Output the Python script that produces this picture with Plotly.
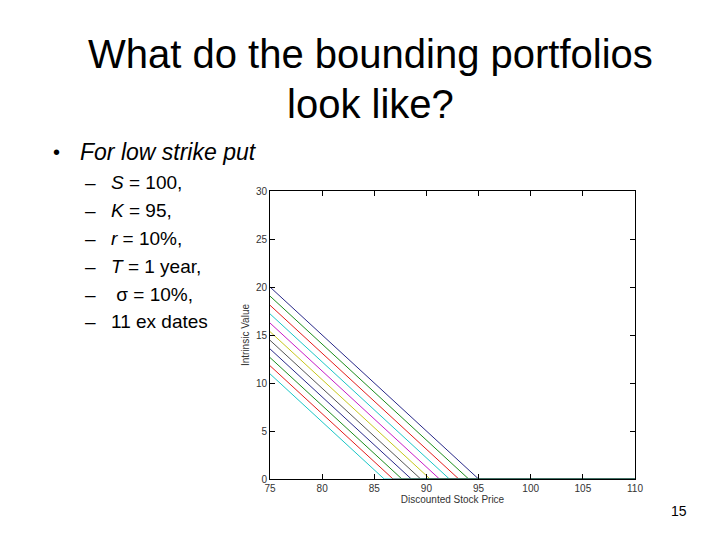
import plotly.graph_objects as go

# intrinsic value of the low strike put for each of the 11 ex dates
ex_dates = ["1", "2", "3", "4", "5", "6", "7", "8", "9", "10", "11"]
start_price = 75
end_price = 110
start_values = [20.0, 19.05, 18.1, 17.2, 16.25, 15.35, 14.45, 13.55, 12.65, 11.8, 10.95]
zero_points = [95.0, 94.05, 93.1, 92.2, 91.25, 90.35, 89.45, 88.55, 87.65, 86.8, 85.95]

x_ticks = [75, 80, 85, 90, 95, 100, 105, 110]
y_ticks = [0, 5, 10, 15, 20, 25, 30]

title_lines = ["What do the bounding portfolios", "look like?"]
bullet = "For low strike put"
sub_bullets = ["<i>S</i> = 100,", "<i>K</i> = 95,", "<i>r</i> = 10%,",
               "<i>T</i> = 1 year,", " σ = 10%,", "11 ex dates"]
page_number = "15"

# old matlab colour order b g r c m y k
colors = ["#10107a", "#007f00", "#e00000", "#00bfbf", "#bf00bf", "#bfbf00", "#404040"]

fig = go.Figure()
for i in range(len(ex_dates)):
    fig.add_trace(go.Scatter(
        x=[start_price, zero_points[i], end_price],
        y=[start_values[i], 0, 0],
        mode="lines",
        name="ex date " + ex_dates[i],
        line=dict(color=colors[i % len(colors)], width=0.9),
        cliponaxis=False,
        showlegend=False,
    ))

# plot area in pixels
L, R, T, B = 262, 627, 183, 471
W, H = 720, 540


def px(x):
    return (x - L) / (R - L)


def py(y):
    return (B - y) / (B - T)


slide_font = "Liberation Sans, Arial, sans-serif"
ann = []
ann.append(dict(x=px(362), y=py(46), text=title_lines[0], font=dict(size=40, color="black", family=slide_font)))
ann.append(dict(x=px(362), y=py(96), text=title_lines[1], font=dict(size=40, color="black", family=slide_font)))
ann.append(dict(x=px(43), y=py(144), text="•", xanchor="left", font=dict(size=20, color="black", family=slide_font)))
ann.append(dict(x=px(70), y=py(144), text="<i>" + bullet + "</i>", xanchor="left",
                font=dict(size=23, color="black", family=slide_font)))
row_y = [174, 202, 230, 258, 286, 313]
for t, yy in zip(sub_bullets, row_y):
    ann.append(dict(x=px(75), y=py(yy), text="–", xanchor="left", font=dict(size=19, color="black", family=slide_font)))
    ann.append(dict(x=px(101), y=py(yy), text=t, xanchor="left", font=dict(size=19, color="black", family=slide_font)))
ann.append(dict(x=px(671), y=py(503), text=page_number, font=dict(size=14, color="black", family=slide_font)))
for a in ann:
    a.update(xref="paper", yref="paper", showarrow=False)
    a.setdefault("xanchor", "center")
    a["yanchor"] = "middle"

axis_font = dict(size=10, color="#333333", family="Liberation Sans, Arial, sans-serif")
common = dict(showgrid=False, zeroline=False, showline=True, linecolor="black", linewidth=1,
              mirror="ticks", ticks="inside", ticklen=5, tickcolor="black", tickwidth=1,
              tickfont=axis_font, automargin=False)

fig.update_layout(
    width=W, height=H,
    margin=dict(l=L, r=W - R, t=T, b=H - B),
    paper_bgcolor="white", plot_bgcolor="white",
    annotations=ann,
    xaxis=dict(range=[start_price, end_price], tickvals=x_ticks,
               title=dict(text="Discounted Stock Price", font=axis_font, standoff=2), **common),
    yaxis=dict(range=[0, 30], tickvals=y_ticks,
               title=dict(text="Intrinsic Value", font=axis_font, standoff=4), **common),
)

fig.write_html("out.html")
